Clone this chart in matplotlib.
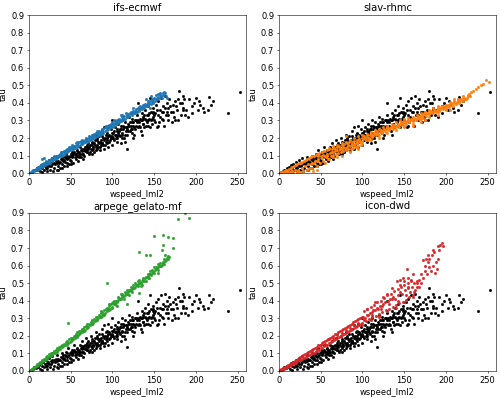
import numpy as np
from matplotlib import pyplot as plt

plt.rcParams["font.size"] = 12

# reference (black) points, same in every panel: (wspeed, tau)
ref_points = [
    (1, 0.002), (3, 0.006), (5, 0.01), (6, 0.02), (8, 0.015), (9, 0.03), (11, 0.02), (12, 0.035),
    (13, 0.01), (14, 0.045), (15, 0.03), (16, 0.005), (17, 0.05), (18, 0.02), (19, 0.04), (20, 0.065),
    (21, 0.01), (22, 0.03), (23, 0.05), (24, 0.075), (25, 0.02), (26, 0.04), (27, 0.06), (28, 0.085),
    (29, 0.01), (30, 0.03), (31, 0.05), (32, 0.07), (33, 0.02), (34, 0.09), (35, 0.04), (36, 0.06),
    (37, 0.03), (38, 0.08), (39, 0.1), (40, 0.05), (41, 0.07), (42, 0.04), (43, 0.09), (44, 0.11),
    (45, 0.06), (46, 0.08), (47, 0.13), (48, 0.05), (49, 0.1), (50, 0.07), (51, 0.12), (52, 0.09),
    (53, 0.06), (54, 0.15), (55, 0.11), (56, 0.08), (57, 0.13), (58, 0.1), (59, 0.07), (60, 0.12),
    (61, 0.15), (62, 0.09), (63, 0.11), (64, 0.17), (65, 0.13), (66, 0.1), (67, 0.15), (68, 0.19),
    (69, 0.12), (70, 0.14), (71, 0.17), (72, 0.11), (73, 0.16), (74, 0.2), (75, 0.13), (76, 0.18),
    (77, 0.15), (78, 0.12), (79, 0.19), (80, 0.22), (81, 0.16), (82, 0.14), (83, 0.18), (84, 0.21),
    (85, 0.15), (86, 0.19), (87, 0.24), (88, 0.17), (89, 0.2), (90, 0.26), (91, 0.16), (92, 0.22),
    (93, 0.19), (94, 0.23), (95, 0.27), (96, 0.18), (97, 0.21), (98, 0.25), (99, 0.2), (100, 0.3),
    (101, 0.23), (102, 0.19), (103, 0.26), (104, 0.22), (105, 0.25), (106, 0.2), (107, 0.28), (108, 0.24),
    (109, 0.21), (110, 0.27), (111, 0.23), (112, 0.3), (113, 0.25), (114, 0.2), (115, 0.29), (116, 0.26),
    (117, 0.22), (118, 0.135), (119, 0.28), (120, 0.32), (121, 0.24), (122, 0.27), (123, 0.31), (124, 0.25),
    (125, 0.29), (126, 0.22), (127, 0.3), (128, 0.27), (129, 0.33), (130, 0.4), (131, 0.26), (132, 0.29),
    (133, 0.31), (134, 0.24), (135, 0.34), (136, 0.28), (137, 0.32), (138, 0.26), (139, 0.36), (140, 0.3),
    (141, 0.33), (142, 0.27), (143, 0.38), (144, 0.31), (145, 0.43), (146, 0.35), (147, 0.28), (148, 0.32),
    (149, 0.37), (150, 0.3), (151, 0.34), (152, 0.39), (153, 0.26), (154, 0.33), (155, 0.41), (156, 0.29),
    (157, 0.36), (158, 0.43), (159, 0.31), (160, 0.38), (161, 0.35), (162, 0.27), (163, 0.44), (164, 0.33),
    (165, 0.4), (166, 0.3), (167, 0.37), (168, 0.42), (170, 0.35), (171, 0.29), (172, 0.39), (174, 0.32),
    (175, 0.41), (177, 0.36), (179, 0.42), (180, 0.47), (182, 0.33), (183, 0.4), (185, 0.44), (187, 0.33),
    (188, 0.36), (190, 0.32), (192, 0.42), (195, 0.38), (198, 0.4), (200, 0.43), (202, 0.36), (204, 0.41),
    (208, 0.37), (215, 0.36), (216, 0.435), (220, 0.41), (239, 0.344), (253, 0.462),
    (20, 0.03), (22, 0.045), (24, 0.04), (26, 0.055), (28, 0.05), (30, 0.06), (33, 0.055), (35, 0.07),
    (37, 0.065), (40, 0.08), (42, 0.075), (44, 0.085), (46, 0.1), (48, 0.09), (50, 0.11), (52, 0.1),
    (54, 0.12), (56, 0.11), (58, 0.125), (60, 0.1), (62, 0.13), (64, 0.125), (66, 0.14), (68, 0.13),
    (70, 0.16), (72, 0.15), (74, 0.14), (76, 0.16), (78, 0.17), (80, 0.15), (82, 0.19), (84, 0.17),
    (86, 0.16), (88, 0.21), (90, 0.19), (92, 0.18), (94, 0.2), (96, 0.22), (98, 0.2), (100, 0.21),
    (102, 0.24), (104, 0.2), (106, 0.24), (108, 0.22), (110, 0.25), (112, 0.22), (114, 0.26), (116, 0.24),
    (118, 0.25), (120, 0.27), (122, 0.25), (124, 0.29), (126, 0.26), (128, 0.3), (132, 0.27), (134, 0.3),
    (136, 0.31), (138, 0.33), (140, 0.27), (142, 0.3), (144, 0.34), (146, 0.3), (148, 0.35), (150, 0.33),
    (70, 0.12), (80, 0.13), (90, 0.14), (100, 0.16), (110, 0.17), (60, 0.09), (50, 0.05), (40, 0.03),
    (35, 0.015), (45, 0.04), (55, 0.09), (65, 0.08), (75, 0.11), (85, 0.13), (95, 0.15), (105, 0.18),
    (115, 0.18), (125, 0.2), (135, 0.22), (145, 0.26), (155, 0.27), (165, 0.35), (175, 0.3), (185, 0.37),
    (195, 0.34), (205, 0.39), (210, 0.35), (218, 0.39),
    (41, 0.09), (43, 0.065), (47, 0.085), (49, 0.075), (51, 0.095), (53, 0.11), (57, 0.095), (59, 0.115),
    (61, 0.11), (63, 0.14), (65, 0.11), (67, 0.125), (69, 0.15), (71, 0.135), (73, 0.12), (75, 0.17),
    (77, 0.14), (79, 0.16), (81, 0.2), (83, 0.15), (85, 0.18), (87, 0.17), (89, 0.16), (91, 0.2),
    (93, 0.17), (95, 0.21), (97, 0.19), (99, 0.23), (101, 0.2), (103, 0.22), (105, 0.21), (107, 0.23),
    (109, 0.25), (111, 0.2), (113, 0.27), (115, 0.22), (117, 0.26), (119, 0.24), (121, 0.29), (123, 0.23),
    (125, 0.27), (127, 0.25), (129, 0.29), (131, 0.3), (133, 0.26), (135, 0.3), (137, 0.28), (139, 0.31),
    (141, 0.29), (143, 0.33), (147, 0.31), (149, 0.34), (151, 0.29), (153, 0.36), (157, 0.32), (159, 0.35),
    (161, 0.3), (163, 0.37), (167, 0.33), (169, 0.38), (173, 0.35), (176, 0.38), (178, 0.3), (181, 0.4),
    (184, 0.36), (186, 0.42),
]

ifs_points = [
    (1, 0.003), (2, 0.008), (3, 0.005), (4, 0.012), (5, 0.015), (6, 0.01), (7, 0.02), (8, 0.025),
    (9, 0.018), (10, 0.03), (11, 0.035), (12, 0.025), (13, 0.04), (14, 0.045), (15, 0.035), (15, 0.08),
    (16, 0.05), (17, 0.04), (18, 0.085), (18, 0.055), (19, 0.045), (20, 0.06), (21, 0.05), (22, 0.065),
    (23, 0.055), (24, 0.075), (25, 0.06), (26, 0.08), (27, 0.07), (28, 0.085), (29, 0.075), (30, 0.09),
    (31, 0.08), (32, 0.095), (33, 0.085), (34, 0.1), (35, 0.09), (36, 0.105), (37, 0.095), (38, 0.11),
    (39, 0.1), (40, 0.12), (41, 0.105), (42, 0.125), (43, 0.11), (44, 0.13), (45, 0.12), (46, 0.135),
    (47, 0.125), (48, 0.14), (49, 0.13), (50, 0.15), (51, 0.135), (52, 0.16), (53, 0.14), (54, 0.155),
    (55, 0.145), (56, 0.17), (57, 0.15), (58, 0.165), (59, 0.155), (60, 0.18), (61, 0.16), (62, 0.175),
    (63, 0.165), (64, 0.19), (65, 0.17), (66, 0.185), (67, 0.175), (68, 0.2), (69, 0.18), (70, 0.195),
    (71, 0.185), (72, 0.21), (73, 0.19), (74, 0.205), (75, 0.195), (76, 0.22), (77, 0.2), (78, 0.215),
    (79, 0.205), (80, 0.23), (81, 0.21), (82, 0.225), (83, 0.215), (84, 0.24), (85, 0.22), (86, 0.235),
    (87, 0.225), (88, 0.25), (89, 0.23), (90, 0.255), (91, 0.24), (92, 0.26), (93, 0.245), (94, 0.265),
    (95, 0.25), (96, 0.275), (97, 0.255), (98, 0.28), (99, 0.265), (100, 0.29), (102, 0.27), (103, 0.295),
    (104, 0.28), (106, 0.3), (107, 0.285), (108, 0.31), (110, 0.295), (111, 0.32), (112, 0.3), (114, 0.325),
    (115, 0.31), (116, 0.34), (118, 0.32), (119, 0.335), (120, 0.325), (122, 0.35), (123, 0.33), (125, 0.355),
    (126, 0.34), (128, 0.365), (129, 0.35), (130, 0.37), (132, 0.355), (133, 0.38), (135, 0.365), (136, 0.39),
    (138, 0.37), (139, 0.395), (140, 0.38), (142, 0.4), (143, 0.385), (145, 0.41), (146, 0.395), (148, 0.42),
    (149, 0.4), (150, 0.43), (151, 0.41), (152, 0.445), (153, 0.42), (155, 0.45), (156, 0.43), (158, 0.44),
    (160, 0.455), (162, 0.46), (164, 0.44), (165, 0.43), (146, 0.44), (140, 0.42), (125, 0.37), (110, 0.33),
    (145, 0.37),
    (35, 0.1), (45, 0.13), (55, 0.155), (65, 0.18), (75, 0.21), (85, 0.23), (95, 0.26), (101, 0.28),
    (105, 0.29), (109, 0.3), (113, 0.315), (117, 0.33), (121, 0.34), (124, 0.345), (127, 0.355), (131, 0.365),
    (134, 0.37), (137, 0.38), (141, 0.39), (144, 0.4), (147, 0.41), (154, 0.435), (157, 0.445), (159, 0.43),
    (161, 0.445), (163, 0.455), (38, 0.12), (48, 0.15), (58, 0.175), (68, 0.19), (78, 0.225), (88, 0.24),
    (98, 0.27), (108, 0.29), (118, 0.335), (128, 0.35), (138, 0.385), (148, 0.405), (30, 0.1), (25, 0.07),
    (20, 0.07), (15, 0.045), (10, 0.02), (12, 0.035),
    (33, 0.095), (37, 0.11), (43, 0.125), (47, 0.14), (53, 0.155), (57, 0.165), (63, 0.175), (67, 0.19),
    (73, 0.2), (77, 0.215), (83, 0.23), (87, 0.245), (93, 0.255), (97, 0.27), (103, 0.285), (107, 0.3),
    (113, 0.305), (117, 0.32), (123, 0.345), (127, 0.345), (133, 0.365), (137, 0.375), (143, 0.395), (147, 0.425),
    (153, 0.43), (157, 0.455), (102, 0.3), (112, 0.33), (122, 0.335), (132, 0.375), (142, 0.41), (152, 0.42),
    (92, 0.27), (82, 0.24), (72, 0.2), (62, 0.185), (52, 0.145), (42, 0.12),
]

slav_points = [
    (1, 0.002), (2, 0.005), (3, 0.0), (4, 0.008), (5, 0.003), (6, 0.012), (7, 0.005), (8, 0.015),
    (9, 0.002), (10, 0.02), (11, 0.008), (12, 0.025), (13, 0.004), (14, 0.03), (15, 0.012), (16, 0.035),
    (17, 0.002), (18, 0.04), (19, 0.015), (20, 0.045), (21, 0.005), (22, 0.05), (23, 0.02), (24, 0.055),
    (25, 0.008), (26, 0.06), (27, 0.03), (28, 0.065), (29, 0.012), (30, 0.07), (31, 0.04), (32, 0.075),
    (33, 0.02), (34, 0.08), (35, 0.05), (36, 0.085), (37, 0.03), (38, 0.09), (39, 0.06), (40, 0.095),
    (41, 0.01), (42, 0.1), (43, 0.07), (44, 0.105), (45, 0.04), (46, 0.11), (47, 0.08), (48, 0.115),
    (49, 0.06), (50, 0.1), (51, 0.12), (52, 0.085), (53, 0.07), (54, 0.125), (55, 0.1), (56, 0.09),
    (57, 0.13), (58, 0.11), (59, 0.08), (60, 0.135), (61, 0.115), (62, 0.1), (63, 0.14), (64, 0.12),
    (65, 0.105), (66, 0.145), (67, 0.125), (68, 0.11), (69, 0.15), (70, 0.13), (71, 0.115), (72, 0.155),
    (73, 0.135), (74, 0.12), (75, 0.16), (76, 0.14), (77, 0.125), (78, 0.165), (79, 0.145), (80, 0.13),
    (81, 0.17), (82, 0.15), (83, 0.135), (84, 0.175), (85, 0.155), (86, 0.14), (87, 0.18), (88, 0.16),
    (89, 0.145), (90, 0.185), (91, 0.165), (92, 0.15), (93, 0.19), (94, 0.17), (95, 0.155), (96, 0.195),
    (97, 0.175), (98, 0.16), (99, 0.2), (100, 0.18), (102, 0.21), (104, 0.19), (106, 0.215), (108, 0.2),
    (110, 0.225), (112, 0.205), (114, 0.23), (116, 0.215), (118, 0.24), (120, 0.22), (122, 0.245), (124, 0.23),
    (126, 0.25), (128, 0.235), (130, 0.26), (132, 0.245), (134, 0.265), (136, 0.25), (138, 0.275), (140, 0.26),
    (142, 0.28), (144, 0.265), (146, 0.29), (148, 0.275), (150, 0.295), (152, 0.28), (154, 0.3), (156, 0.29),
    (158, 0.31), (160, 0.295), (162, 0.315), (164, 0.3), (166, 0.325), (168, 0.31), (170, 0.33), (172, 0.315),
    (174, 0.34), (176, 0.325), (178, 0.345), (180, 0.335), (182, 0.355), (184, 0.34), (186, 0.36), (188, 0.35),
    (190, 0.37), (192, 0.355), (194, 0.375), (196, 0.365), (198, 0.38), (200, 0.37), (202, 0.39), (204, 0.375),
    (206, 0.4), (208, 0.385), (210, 0.41), (212, 0.395), (214, 0.415), (216, 0.4), (218, 0.42), (220, 0.41),
    (222, 0.43), (224, 0.425), (226, 0.44), (228, 0.45), (230, 0.46), (233, 0.47), (236, 0.48), (239, 0.49),
    (242, 0.5), (245, 0.51), (248, 0.53), (252, 0.52), (60, 0.08), (70, 0.09), (80, 0.21),
    (45, 0.07), (47, 0.095), (53, 0.105), (57, 0.1), (63, 0.12), (67, 0.135), (73, 0.145), (77, 0.15),
    (83, 0.16), (87, 0.165), (93, 0.175), (97, 0.185), (101, 0.195), (103, 0.2), (105, 0.205), (107, 0.19),
    (109, 0.215), (111, 0.21), (113, 0.22), (115, 0.225), (117, 0.23), (119, 0.225), (121, 0.235), (123, 0.24),
    (125, 0.24), (127, 0.245), (129, 0.25), (131, 0.255), (133, 0.255), (135, 0.26), (137, 0.265), (139, 0.27),
    (141, 0.27), (143, 0.275), (145, 0.28), (147, 0.285), (149, 0.29), (151, 0.29), (153, 0.295), (155, 0.3),
    (157, 0.3), (159, 0.305), (161, 0.31), (163, 0.31), (165, 0.315), (167, 0.32), (169, 0.32), (171, 0.325),
    (173, 0.33), (175, 0.335), (177, 0.34), (179, 0.34), (181, 0.345), (183, 0.35), (185, 0.35), (187, 0.355),
    (189, 0.36), (191, 0.365), (193, 0.365), (195, 0.37), (197, 0.375), (199, 0.375), (201, 0.38), (203, 0.385),
    (205, 0.39), (207, 0.395), (209, 0.4), (211, 0.4), (213, 0.405), (215, 0.41), (217, 0.41), (219, 0.415),
    (221, 0.42), (223, 0.42), (225, 0.43), (227, 0.445), (229, 0.44), (120, 0.2), (130, 0.23), (140, 0.245),
    (150, 0.27), (160, 0.28), (170, 0.31), (180, 0.32), (190, 0.35), (200, 0.36), (110, 0.19), (100, 0.165),
    (90, 0.16), (75, 0.1), (85, 0.12), (95, 0.14), (65, 0.09), (55, 0.06), (35, 0.025), (40, 0.03),
    (45, 0.02), (38, 0.05), (42, 0.06),
    (60, 0.145), (70, 0.16), (80, 0.18), (90, 0.2), (100, 0.22), (110, 0.235), (120, 0.25), (130, 0.27),
    (140, 0.29), (150, 0.31), (160, 0.32), (170, 0.34), (180, 0.36), (190, 0.38), (200, 0.39), (210, 0.42),
    (220, 0.44), (65, 0.155), (75, 0.17), (85, 0.19), (95, 0.21), (105, 0.225), (115, 0.245), (125, 0.26),
    (135, 0.28), (145, 0.3), (155, 0.315), (165, 0.33), (175, 0.35), (185, 0.37), (195, 0.385), (205, 0.405),
    (215, 0.425), (150, 0.26), (160, 0.27), (175, 0.3), (190, 0.33), (205, 0.36), (170, 0.29),
]

arpege_points = [
    (1, 0.003), (2, 0.006), (3, 0.01), (4, 0.012), (5, 0.018), (6, 0.02), (7, 0.025), (8, 0.03),
    (9, 0.028), (10, 0.04), (11, 0.035), (12, 0.045), (13, 0.05), (14, 0.045), (15, 0.055), (16, 0.06),
    (17, 0.055), (18, 0.07), (19, 0.065), (20, 0.08), (21, 0.07), (22, 0.085), (23, 0.08), (24, 0.095),
    (25, 0.085), (26, 0.1), (27, 0.09), (28, 0.105), (29, 0.1), (30, 0.115), (31, 0.105), (32, 0.12),
    (33, 0.11), (34, 0.13), (35, 0.12), (36, 0.135), (37, 0.125), (38, 0.14), (39, 0.135), (40, 0.15),
    (41, 0.14), (42, 0.155), (43, 0.145), (44, 0.165), (45, 0.15), (46, 0.17), (47, 0.16), (48, 0.18),
    (49, 0.165), (50, 0.185), (51, 0.175), (52, 0.19), (53, 0.18), (54, 0.2), (55, 0.19), (56, 0.21),
    (57, 0.195), (58, 0.22), (59, 0.205), (60, 0.225), (61, 0.215), (62, 0.23), (63, 0.22), (64, 0.24),
    (65, 0.23), (66, 0.25), (67, 0.235), (68, 0.255), (69, 0.245), (70, 0.265), (71, 0.25), (72, 0.27),
    (73, 0.26), (74, 0.28), (75, 0.27), (76, 0.29), (77, 0.275), (78, 0.295), (79, 0.285), (80, 0.305),
    (81, 0.29), (82, 0.31), (83, 0.3), (84, 0.32), (85, 0.305), (86, 0.33), (87, 0.315), (88, 0.335),
    (89, 0.325), (90, 0.345), (91, 0.33), (92, 0.355), (93, 0.34), (94, 0.36), (95, 0.35), (96, 0.37),
    (97, 0.355), (98, 0.38), (99, 0.365), (100, 0.385), (102, 0.38), (104, 0.4), (106, 0.395), (108, 0.415),
    (110, 0.41), (112, 0.43), (114, 0.425), (116, 0.445), (118, 0.44), (120, 0.46), (122, 0.455), (124, 0.475),
    (126, 0.47), (128, 0.49), (130, 0.485), (132, 0.505), (134, 0.5), (136, 0.52), (138, 0.515), (140, 0.535),
    (142, 0.53), (144, 0.55), (146, 0.545), (148, 0.565), (150, 0.56), (152, 0.58), (154, 0.575), (156, 0.6),
    (158, 0.595), (160, 0.615), (162, 0.61), (164, 0.63), (166, 0.64), (168, 0.65), (93, 0.5), (47, 0.275),
    (118, 0.38), (132, 0.445), (132, 0.68), (140, 0.66), (145, 0.66), (150, 0.77), (159, 0.69), (160, 0.72),
    (161, 0.775), (167, 0.765), (172, 0.757), (172, 0.7), (179, 0.867), (187, 0.897), (192, 0.87),
    (45, 0.16), (55, 0.2), (65, 0.24), (75, 0.28), (85, 0.315), (95, 0.355), (101, 0.39), (103, 0.385),
    (105, 0.4), (107, 0.405), (109, 0.41), (111, 0.42), (113, 0.425), (115, 0.435), (117, 0.44), (119, 0.45),
    (121, 0.46), (123, 0.465), (125, 0.47), (127, 0.48), (129, 0.49), (131, 0.495), (133, 0.5), (135, 0.51),
    (137, 0.52), (139, 0.53), (141, 0.535), (143, 0.54), (145, 0.55), (147, 0.56), (149, 0.565), (151, 0.575),
    (153, 0.585), (155, 0.59), (157, 0.6), (159, 0.605), (161, 0.62), (163, 0.625), (165, 0.645), (110, 0.44),
    (120, 0.43), (130, 0.51), (140, 0.51), (150, 0.59), (100, 0.36), (90, 0.32), (80, 0.29), (70, 0.25),
    (60, 0.21), (50, 0.17), (105, 0.37), (115, 0.45), (125, 0.49), (135, 0.49), (145, 0.57), (155, 0.61),
    (163, 0.66),
    (102, 0.4), (112, 0.44), (122, 0.48), (132, 0.52), (142, 0.555), (152, 0.59), (162, 0.635), (107, 0.42),
    (117, 0.46), (127, 0.5), (137, 0.53), (147, 0.575), (157, 0.615), (167, 0.655), (104, 0.375), (114, 0.41),
    (124, 0.45), (134, 0.485), (144, 0.53), (154, 0.56), (76, 0.27), (86, 0.31), (96, 0.345), (66, 0.23),
    (56, 0.2), (96, 0.38), (86, 0.34),
]

icon_points = [
    (1, 0.003), (2, 0.005), (3, 0.01), (4, 0.008), (5, 0.015), (6, 0.012), (7, 0.02), (8, 0.018),
    (9, 0.028), (10, 0.022), (11, 0.033), (12, 0.028), (13, 0.04), (14, 0.033), (15, 0.045), (16, 0.038),
    (17, 0.05), (18, 0.043), (19, 0.058), (20, 0.048), (21, 0.063), (22, 0.055), (23, 0.07), (24, 0.06),
    (25, 0.078), (26, 0.065), (27, 0.083), (28, 0.07), (29, 0.09), (30, 0.075), (31, 0.095), (32, 0.08),
    (33, 0.1), (34, 0.085), (35, 0.108), (36, 0.09), (37, 0.113), (38, 0.095), (39, 0.12), (40, 0.1),
    (41, 0.125), (42, 0.105), (43, 0.133), (44, 0.11), (45, 0.138), (46, 0.118), (47, 0.145), (48, 0.122),
    (49, 0.15), (50, 0.128), (51, 0.158), (52, 0.133), (53, 0.163), (54, 0.14), (55, 0.17), (56, 0.145),
    (57, 0.175), (58, 0.15), (59, 0.183), (60, 0.158), (61, 0.188), (62, 0.163), (63, 0.195), (64, 0.17),
    (65, 0.2), (66, 0.175), (67, 0.208), (68, 0.18), (69, 0.213), (70, 0.188), (71, 0.22), (72, 0.193),
    (73, 0.225), (74, 0.2), (75, 0.233), (76, 0.205), (77, 0.238), (78, 0.21), (79, 0.245), (80, 0.218),
    (81, 0.25), (82, 0.223), (83, 0.258), (84, 0.23), (85, 0.263), (86, 0.235), (87, 0.27), (88, 0.24),
    (89, 0.278), (90, 0.245), (91, 0.283), (92, 0.25), (93, 0.29), (94, 0.258), (95, 0.295), (96, 0.263),
    (97, 0.303), (98, 0.27), (99, 0.31), (100, 0.275), (102, 0.34), (104, 0.285), (106, 0.35), (108, 0.295),
    (110, 0.365), (112, 0.305), (114, 0.375), (116, 0.315), (118, 0.39), (120, 0.325), (122, 0.4), (124, 0.335),
    (126, 0.415), (128, 0.345), (130, 0.43), (132, 0.355), (134, 0.44), (136, 0.365), (138, 0.455), (140, 0.375),
    (142, 0.465), (144, 0.385), (146, 0.48), (148, 0.395), (150, 0.49), (152, 0.405), (154, 0.5), (156, 0.42),
    (158, 0.51), (160, 0.43), (141, 0.51), (149, 0.53), (129, 0.44), (145, 0.49), (153, 0.58), (161, 0.55),
    (165, 0.51), (165, 0.48), (162, 0.5), (168, 0.52), (173, 0.63), (175, 0.6), (178, 0.62), (180, 0.64),
    (183, 0.66), (187, 0.56), (189, 0.58), (186, 0.68), (190, 0.71), (192, 0.69), (195, 0.73), (197, 0.71),
    (170, 0.55), (158, 0.52), (135, 0.47), (125, 0.42), (115, 0.39), (105, 0.35),
    (45, 0.125), (55, 0.155), (65, 0.185), (75, 0.215), (85, 0.245), (95, 0.275), (101, 0.305), (103, 0.3),
    (107, 0.32), (109, 0.33), (111, 0.335), (113, 0.345), (117, 0.36), (119, 0.35), (121, 0.37), (123, 0.37),
    (127, 0.39), (131, 0.4), (133, 0.41), (137, 0.42), (139, 0.41), (143, 0.43), (147, 0.44), (151, 0.46),
    (155, 0.47), (157, 0.45), (159, 0.48), (163, 0.46), (100, 0.26), (110, 0.29), (120, 0.31), (130, 0.34),
    (140, 0.36), (150, 0.39), (160, 0.42), (145, 0.52), (150, 0.51), (155, 0.53), (165, 0.5), (175, 0.57),
    (180, 0.59),
    (40, 0.12), (50, 0.15), (60, 0.18), (70, 0.205), (80, 0.235), (90, 0.26), (105, 0.32), (115, 0.345),
    (125, 0.38), (135, 0.41), (145, 0.45), (155, 0.48), (102, 0.29), (112, 0.32), (122, 0.35), (132, 0.38),
    (142, 0.4), (152, 0.43), (162, 0.45), (168, 0.48), (170, 0.5), (172, 0.53), (177, 0.55), (182, 0.57),
    (185, 0.6), (188, 0.62), (191, 0.64), (176, 0.64), (179, 0.66), (184, 0.69), (193, 0.72),
]

models = ["ifs-ecmwf", "slav-rhmc", "arpege_gelato-mf", "icon-dwd"]
model_points = [ifs_points, slav_points, arpege_points, icon_points]
model_colors = ["#1f77b4", "#ff7f0e", "#2ca02c", "#d62728"]

fig, axes = plt.subplots(2, 2, figsize=(10, 7.96), dpi=50)
plt.subplots_adjust(left=0.058, right=0.992, bottom=0.068, top=0.962, wspace=0.152, hspace=0.252)

ref_x, ref_y = np.array(ref_points).T

for ax, name, pts, col in zip(axes.flat, models, model_points, model_colors):
    mx, my = np.array(pts).T
    # black = reference, colour = model
    ax.scatter(ref_x, ref_y, s=10, color="black")
    ax.scatter(mx, my, s=10, color=col)
    ax.set_xlim(0, 260)
    ax.set_ylim(0, 0.9)
    ax.set_title(name)
    ax.set_xlabel("wspeed_lml2")
    ax.set_ylabel("tau")

plt.savefig("out.png", dpi=50)
